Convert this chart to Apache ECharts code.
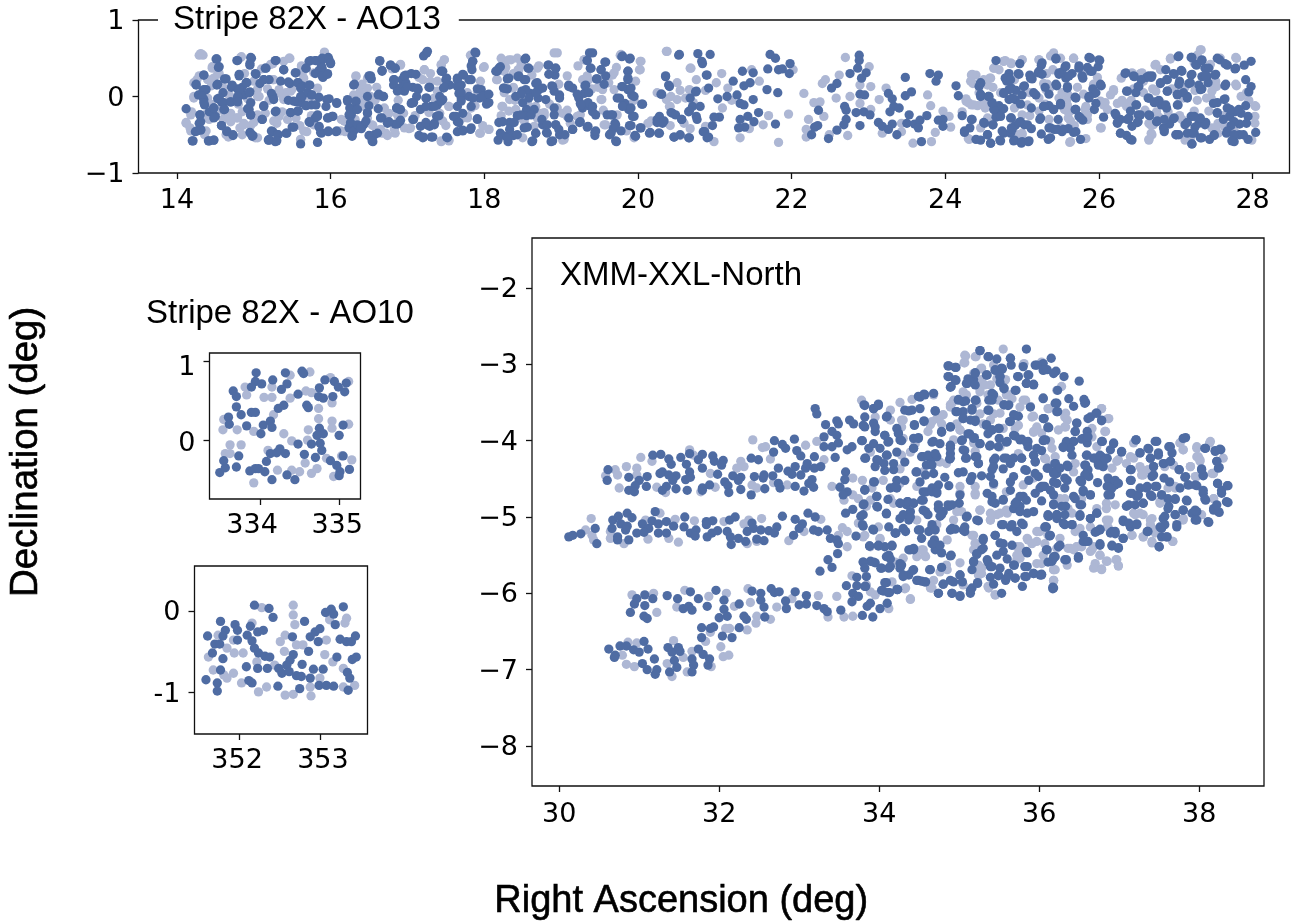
<!DOCTYPE html>
<html><head><meta charset="utf-8">
<style>html,body{margin:0;padding:0;background:#fff}#c{width:1294px;height:922px}</style>
<script src="https://cdn.jsdelivr.net/npm/echarts@6/dist/echarts.min.js"></script>
</head><body><div id="c"></div>
<script>
const ao13Light=[14.29,.54,14.34,.54,14.84,.52,15.47,.50,15.25,.43,15.92,.57,15.39,.46,14.46,.37,14.26,.22,14.22,-.02,14.48,.24,14.68,.02,15.0,.20,15.25,.22,15.33,.09,15.37,.02,15.05,0,14.96,-.09,14.19,-.20,14.36,-.24,14.12,-.35,14.17,-.41,14.63,-.26,14.78,-.28,14.70,-.33,14.87,-.35,14.82,-.41,14.36,-.50,14.67,-.53,15.02,-.54,14.96,-.38,15.69,-.46,15.61,-.57,15.37,-.20,15.33,-.26,15.63,.30,16.14,-.30,16.19,-.46,16.33,.26,16.38,.13,16.48,.11,16.52,0,16.43,-.13,16.48,-.28,16.67,-.48,16.74,-.51,16.84,-.48,16.76,-.22,16.96,-.41,16.91,.41,17.22,.35,17.20,.22,17.25,.57,17.48,.48,17.44,.41,17.39,.20,17.54,-.13,17.44,-.59,17.54,-.57,17.78,-.26,17.94,-.48,18.06,-.43,17.99,.38,17.82,.54,18.16,.22,18.23,-.13,18.33,-.04,18.28,.46,18.35,.48,18.44,.35,18.41,-.17,18.69,.37,18.67,-.13,18.74,-.22,18.95,.57,19.02,-.57,19.02,-.22,19.30,.48,19.36,.22,19.53,-.04,19.58,-.37,19.25,-.24,19.67,.28,20.03,.46,20.03,.35,19.77,.54,20.37,.59,20.37,-.04,20.42,-.13,20.13,-.35,20.55,-.51,20.68,.37,20.76,.22,20.88,-.39,21.09,.30,21.17,.11,21.58,.20,21.48,.35,21.33,-.54,20.99,-.59,21.63,-.37,21.70,-.25,21.96,-.23,21.83,-.60,22.02,.35,22.16,.04,22.29,-.08,22.37,-.07,22.22,-.30,22.42,-.26,22.19,-.43,22.19,-.53,22.40,.17,22.44,.22,22.58,-.02,22.70,.51,22.62,.28,22.76,0,22.73,-.51,22.49,-.50,22.89,.15,23.01,.39,23.03,.13,23.23,.11,23.14,-.04,22.89,-.09,23.03,-.17,23.18,-.48,23.43,-.35,23.43,-.46,23.58,-.61,23.82,-.59,23.87,-.47,23.77,.02,23.81,-.12,23.97,-.19,24.05,-.26,24.07,-.40,24.30,-.55,24.22,-.20,24.34,.28,24.36,.17,24.59,.24,24.27,-.03,24.34,-.11,24.49,-.09,24.64,.37,24.76,.46,24.86,.43,25.0,.48,25.40,.54,25.22,.48,25.67,.50,25.36,.11,25.48,-.02,25.55,-.17,25.60,-.28,25.62,-.60,25.82,-.17,26.03,-.41,25.0,-.50,25.28,.17,26.19,.09,26.24,-.09,26.29,.24,26.54,.30,26.73,.41,26.93,.49,26.36,-.13,26.68,-.48,26.65,-.57,26.71,-.37,27.12,-.57,27.33,.61,27.28,.54,27.79,.50,27.53,.13,27.46,-.02,27.79,.14,28.04,-.13,28.03,-.26,27.99,-.57,27.63,-.39,27.47,-.41,27.10,-.02,26.78,-.27];
const ao13LightMore=[14.22,.18,14.40,.22,14.45,.14,14.60,.12,14.55,.30,14.40,-.02,14.44,-.10,14.32,-.30,14.42,-.30,14.55,-.18,14.60,-.30,14.70,-.22,14.85,-.20,14.80,-.10,14.92,-.03,14.88,.30,15.05,.10,15.10,.36,15.18,.10,15.20,-.05,15.15,-.22,15.30,-.35,15.42,.05,15.50,.10,15.55,-.28,15.60,-.38,15.62,.40,15.75,-.25,15.80,-.05,16.18,-.32,16.32,-.30,16.42,-.05,16.38,.05,16.30,.02,16.60,.12,16.58,-.05,16.55,-.38,16.70,-.15,16.65,-.43,16.80,.36,16.88,-.05,16.95,-.22,17.02,-.42,17.10,-.25,17.15,.25,17.30,.30,17.35,-.02,17.42,-.22,17.50,-.38,17.72,-.28,17.78,.05,17.98,-.38,17.88,-.12,18.22,-.25,18.38,.30,18.48,.42,18.22,.50,18.28,.38,18.38,.12,18.40,-.05,18.48,-.28,18.58,-.12,18.62,.28,18.72,.10,18.78,-.25,18.85,-.10,18.95,-.15,19.08,-.18,19.12,-.35,19.22,.40,19.28,.22,19.40,.10,19.48,.12,19.55,-.18,19.62,.18,19.72,.38,19.85,-.45,19.95,-.05,20.25,.05,20.42,-.38,20.55,.08,20.62,-.02,20.60,-.35,20.68,-.42,20.88,.08,20.72,-.08,21.02,.18,21.10,-.15,21.22,-.05,21.45,-.42,24.40,.28,24.50,.22,24.55,.15,24.30,-.08,24.42,-.12,24.52,-.15,24.62,.12,24.70,.35,24.78,.47,24.90,.22,24.72,.05,24.90,-.15,24.95,-.50,25.1,.05,25.10,-.25,25.22,-.02,25.30,-.10,25.32,.30,25.35,-.30,25.40,.35,25.50,.50,25.58,-.05,25.60,.02,25.62,-.20,25.68,-.38,25.72,.12,25.80,.03,25.85,-.30,25.98,.25,26.08,-.08,26.15,.02,26.30,-.05,26.42,-.05,26.45,.10,26.58,.05,26.60,-.18,26.58,.20,26.70,.10,26.65,-.35,26.75,-.20,26.80,.35,26.90,-.20,26.95,.10,27.05,-.25,27.08,-.30,27.12,.12,27.25,.08,27.28,-.05,27.45,.42,27.52,.20,27.55,-.35,27.55,-.48,27.62,-.25,27.72,-.45,27.85,.00,27.95,-.05,28.03,-.12,27.92,.05,28.03,-.35,27.58,.50];
const ao13LightCrops=[14.31,.56,14.83,.51,15.46,.50,15.92,.58,14.46,.39,14.29,.27,14.53,.29,14.22,0,14.18,-.24,14.12,-.34,14.18,-.45,14.38,-.45,14.44,-.19,14.68,-.26,14.79,-.28,14.64,-.50,14.87,-.37,14.85,-.50,15.0,-.34,15.07,0,15.05,-.24,15.26,.22,15.22,.42,15.33,.07,15.39,-.04,15.48,.07,15.65,.24,15.78,.31,15.65,-.45,15.61,-.56,15.26,-.32,15.44,-.30,15.70,0,15.83,.11,15.78,-.37,16.18,-.32,16.13,-.45,16.33,.27,16.41,.16,16.39,.05,16.48,.24,16.72,-.48,16.83,-.43,17.04,-.41,16.91,.42,16.74,-.24,16.54,-.37,16.87,-.24,15.05,-.54,
18.91,.57,18.32,.48,18.43,.50,18.26,.33,18.17,.22,18.45,.35,18.71,.40,18.0,.39,17.48,.48,17.44,.42,17.22,.35,17.30,.20,17.39,.07,17.54,-.13,17.28,-.21,17.46,-.32,17.78,-.28,17.83,-.15,17.95,.20,17.91,.07,17.95,-.48,18.06,-.43,18.24,-.13,18.32,-.19,18.39,-.02,18.26,.05,18.37,.11,18.78,-.21,18.69,-.28,18.65,-.39,18.52,-.32,18.97,.16,19.08,.27,19.34,.27,19.30,.48,19.54,.09,19.52,-.04,19.69,.31,19.78,.55,20.04,.46,20.02,.35,19.97,.20,19.69,.09,19.08,-.26,19.21,-.26,19.56,-.37,19.73,-.24,19.89,-.11,19.95,-.54,20.17,-.32,20.43,0,20.51,.18,20.38,.59,20.69,.37,20.67,.09,20.51,-.04,20.41,-.13,17.44,-.58,17.54,-.58,18.50,-.54,19.04,-.56,
24.35,.29,24.33,.20,24.44,.05,24.27,-.06,24.37,-.11,24.50,-.08,24.58,.24,24.63,.37,24.76,.46,24.85,.44,25.0,.48,25.22,.48,25.37,.53,25.41,.57,25.67,.50,25.83,.33,25.93,.16,25.33,.16,25.52,.05,25.31,.09,25.22,-.19,25.59,-.19,25.63,-.32,25.59,-.11,25.83,-.13,25.85,-.24,25.50,-.41,26.02,-.41,25.63,-.59,25.83,-.55,26.06,-.11,26.19,.07,26.32,-.08,26.11,-.17,26.43,.31,26.56,.31,26.74,.42,26.93,.50,27.32,.61,27.24,.44,27.06,.13,26.74,.07,26.80,-.08,26.67,-.37,26.69,-.50,26.65,-.56,26.91,-.28,27.24,-.19,27.43,-.19,27.52,-.41,27.50,.16,27.47,.07,27.40,-.02,27.78,.16,27.78,.51,27.67,-.15,27.76,-.45,27.19,-.56,27.32,-.54,24.55,-.28,24.46,-.41,24.31,-.56,25.0,-.48,25.0,-.24,25.07,-.11,24.66,-.24,26.02,-.06];
const ao13Dark=[14.51,.49,14.54,.38,14.78,.47,14.96,.51,14.95,.41,14.35,.28,14.25,.15,14.34,.08,14.38,.09,14.35,-.04,14.36,-.11,14.52,.15,14.62,.23,14.81,.27,14.90,.18,14.71,.12,14.79,.10,14.87,.02,14.94,.05,14.53,-.03,14.58,-.07,14.70,-.07,14.79,-.02,14.12,-.16,14.30,-.24,14.48,-.15,14.50,-.26,14.62,-.17,14.94,-.17,14.96,-.24,15.13,-.13,15.11,-.30,15.28,-.20,15.25,0,15.15,.37,15.28,.47,15.39,.35,15.54,.31,15.13,.22,15.08,.17,15.47,.17,15.58,.18,15.63,.14,15.73,.15,15.25,-.46,15.20,-.57,15.32,-.50,15.42,-.48,15.50,-.40,15.48,-.21,15.57,-.19,15.68,-.12,15.75,-.11,15.83,-.24,15.80,-.28,15.73,-.34,15.85,-.40,15.88,-.48,15.97,-.46,16.07,-.46,15.97,-.28,16.03,-.26,16.08,-.09,15.95,-.04,15.75,.02,15.63,0,15.56,-.07,15.72,.46,15.80,.47,15.90,.49,15.97,.51,16.0,.43,15.88,.40,15.68,.37,15.85,.34,15.96,.30,15.90,.25,14.29,-.35,14.31,-.43,14.24,-.46,14.21,-.58,14.41,-.58,14.48,-.57,14.58,-.38,14.65,-.46,14.73,-.50,14.95,-.47,14.99,-.51,15.19,-.57,15.28,-.59,15.61,-.62,15.83,-.60,16.22,-.06,16.33,-.07,16.25,-.15,16.31,-.17,16.27,-.24,16.30,.15,16.50,.27,16.53,.23,16.26,-.36,16.24,-.41,16.28,-.51,16.36,-.41,16.43,-.37,16.48,-.22,16.50,-.51,16.57,-.50,16.55,-.59,16.64,.46,16.67,.33,16.78,.41,16.84,.37,16.62,.02,16.68,0,16.82,.22,16.82,.15,16.93,.22,16.98,.28,17.05,.30,16.96,.07,17.07,.12,17.14,.09,17.12,0,16.86,-.15,16.90,-.17,16.67,-.28,16.74,-.35,16.84,-.36,16.90,-.33,17.07,-.30,17.05,-.09,17.25,.57,17.21,.53,17.29,.12,17.25,-.02,17.17,-.17,17.31,-.13,17.39,-.11,17.46,-.04,17.25,-.37,17.17,-.39,17.29,-.39,17.15,-.51,17.21,-.53,17.31,-.53,17.51,-.53,17.38,-.26,17.44,.33,17.51,.24,17.47,.11,17.65,.24,17.73,.28,17.80,.22,17.88,.58,17.85,.46,17.84,.35,17.65,.13,17.67,.04,17.70,-.02,17.65,-.13,17.80,0,17.91,.10,17.94,-.02,18.03,.02,18.03,-.10,17.60,-.26,17.65,-.33,17.65,-.46,17.72,-.44,17.82,-.43,17.91,-.30,18.17,.33,18.21,.39,18.30,.23,18.25,.11,18.44,.26,18.52,.22,18.53,.49,18.57,.37,18.19,-.34,18.33,-.34,18.21,-.48,18.18,-.57,18.28,-.52,18.31,-.59,18.33,-.43,18.38,-.51,18.43,-.25,18.41,0,18.49,.07,18.60,.04,18.67,.17,18.55,-.17,18.55,-.25,18.70,-.02,18.52,-.41,18.67,-.48,18.62,-.59,18.76,-.37,18.81,-.47,18.87,-.59,18.93,-.37,18.98,-.50,18.83,.41,18.93,.37,18.88,.14,18.98,.02,18.98,-.02,19.10,.15,19.15,.11,19.10,-.28,19.25,-.33,19.15,-.43,19.23,-.02,19.30,.04,19.25,-.09,19.31,.14,19.37,.57,19.34,.47,19.38,.37,19.46,.23,19.52,.35,19.58,.45,19.38,-.13,19.41,-.20,19.35,-.39,19.44,-.47,19.44,-.51,19.60,-.24,19.67,-.24,19.70,-.35,19.65,-.48,19.72,-.59,19.79,.52,19.89,.49,19.87,.33,19.87,.22,19.79,.13,19.87,.09,19.73,-.02,19.83,-.09,19.88,-.17,20.05,-.10,19.93,-.26,19.89,-.38,20.03,-.41,19.96,-.51,20.15,-.48,20.25,-.30,20.32,-.35,20.27,-.48,20.47,-.53,20.66,-.54,20.53,.54,20.78,.56,20.83,.46,20.90,.28,20.36,.26,20.40,.15,20.30,.03,20.45,-.22,20.57,-.30,20.76,.07,20.71,-.13,20.66,-.20,20.81,-.13,20.76,-.26,20.85,-.46,20.90,-.54,
20.94,.55,20.84,.43,20.89,.28,20.92,.11,21.04,-.03,21.16,0,21.29,.02,21.24,.20,21.36,.33,21.50,.31,21.46,.18,21.38,.14,21.50,-.04,21.33,-.09,21.38,-.11,21.57,-.21,21.43,-.26,21.06,-.27,20.99,-.27,21.33,-.30,21.51,-.33,21.39,-.40,21.31,-.41,20.97,-.38,20.87,-.46,20.92,-.53,21.72,.55,21.79,.50,21.69,.36,21.83,.35,21.88,.36,21.98,.43,21.97,.30,21.68,.09,21.82,.05,21.79,-.36,22.26,-.50,22.34,-.38,22.30,-.40,22.48,-.55,22.35,-.18,22.52,.11,22.59,.17,22.76,.30,22.88,.54,22.88,.47,22.86,.37,22.97,.31,22.91,.24,22.89,.03,22.95,.02,22.69,-.13,22.71,-.18,22.84,-.21,22.94,-.20,23.02,-.24,22.71,-.30,22.68,-.37,22.59,-.44,22.89,-.38,23.13,-.34,23.26,.04,23.31,-.03,23.33,-.13,23.28,-.20,23.40,-.15,23.18,-.39,23.31,-.36,23.26,-.43,23.37,-.50,23.48,.25,23.48,.01,23.56,.06,23.80,.30,23.91,.28,23.88,.20,23.53,-.24,23.50,-.35,23.60,-.36,23.67,-.31,23.65,-.41,23.76,-.25,23.91,-.31,23.97,-.30,23.97,-.39,23.69,-.59,
24.14,.14,24.17,.01,24.46,.17,24.44,.13,24.46,0,24.56,0,24.22,-.25,24.34,-.30,24.32,-.41,24.25,-.47,24.51,-.35,24.46,-.57,24.55,-.50,24.62,-.37,24.59,-.61,24.66,.47,24.61,-.09,24.64,-.17,24.71,-.22,24.66,-.27,24.71,-.57,24.76,-.48,24.86,-.28,24.86,-.41,24.91,-.38,24.98,-.33,25.03,-.37,24.90,-.57,24.99,-.61,25.08,-.59,24.83,.30,24.78,.24,24.86,.11,24.76,.04,24.83,-.04,24.95,.30,24.97,.43,25.03,.14,25.0,.02,24.91,-.04,25.13,.23,25.21,.31,25.25,.41,25.18,.02,25.12,-.15,25.28,-.13,25.23,-.30,25.44,.49,25.48,.29,25.56,.39,25.57,.24,25.45,.14,25.59,.11,25.69,-.01,25.50,-.09,25.41,-.17,25.69,-.17,25.47,-.30,25.74,-.26,25.79,-.31,25.37,-.41,25.42,-.43,25.25,-.49,25.34,-.56,25.52,-.46,25.67,-.47,25.76,-.56,25.74,.37,25.87,.51,26.01,.47,25.99,.39,25.89,.33,25.79,.24,26.03,.14,25.94,.04,25.87,-.02,25.96,-.09,25.94,-.17,26.06,-.27,
26.34,.30,26.46,.26,26.36,.07,26.51,.13,26.49,-.11,26.21,-.22,26.24,-.35,26.39,-.28,26.51,-.24,26.51,-.33,26.66,-.25,26.28,-.48,26.36,-.51,26.43,-.57,26.62,.25,26.68,.25,26.64,-.02,26.72,-.07,26.81,-.11,26.88,-.15,26.75,-.33,26.84,-.41,26.85,-.46,26.97,-.29,27.03,.52,26.97,.30,26.88,.22,26.80,.17,26.89,.07,27.03,-.11,27.07,.34,27.20,.28,27.17,.17,27.05,.20,27.02,.02,27.15,0,27.20,.51,27.34,.48,27.27,.41,27.38,.37,27.34,.26,27.51,.28,27.41,.26,27.34,.10,27.01,-.50,27.12,-.37,27.20,-.26,27.30,-.35,27.38,-.37,27.21,-.48,27.21,-.62,27.34,-.54,27.44,-.56,27.50,-.51,27.57,.48,27.67,.41,27.77,.36,27.89,.41,27.98,.46,27.64,.14,27.49,-.09,27.64,-.03,27.54,-.22,27.67,-.15,27.77,-.20,27.70,-.26,27.91,-.12,27.91,.22,27.98,.13,27.95,.06,27.94,-.26,27.83,-.36,27.76,-.33,27.66,-.48,27.76,-.59,27.83,-.50,27.94,-.56,28.04,-.47];
const ao13DarkMore=[14.28,.02,14.42,-.20,14.60,.05,14.85,.12,15.02,.30,15.20,.22,15.35,.20,15.45,-.05,15.62,-.08,15.80,.30,15.70,.05,16.40,-.42,16.30,-.45,16.50,-.12,16.92,.12,16.98,.18,17.08,-.08,17.35,-.35,17.42,.00,17.70,.15,17.72,-.22,17.55,.15,18.30,.10,18.70,.08,18.92,.28,18.75,-.30,19.05,-.50,19.28,-.15,19.35,-.08,19.68,-.42,19.80,-.12,19.92,.02,20.68,-.02,20.55,-.50,24.70,-.12,24.80,.20,24.92,.08,24.98,-.10,25.10,.28,25.30,.12,25.35,-.12,25.52,.32,25.65,.30,25.85,.38,25.92,.10,25.60,-.42,25.12,-.42,24.85,-.48,26.28,-.30,26.55,.22,26.78,-.05,26.92,-.36,27.10,.05,27.30,.15,27.15,-.48,27.42,.18,27.62,-.30,27.85,-.22,27.92,-.35,27.72,-.38,27.88,-.50,27.25,-.40];
const ao13DarkCrops=[14.52,.49,14.55,.39,14.79,.47,14.97,.50,14.95,.43,14.35,.28,14.25,.16,14.35,.09,14.33,0,14.35,-.08,14.53,.16,14.64,.23,14.81,.29,15.03,.29,14.91,.18,14.72,.15,14.81,.09,14.79,0,14.95,.06,14.55,-.02,14.61,-.08,14.70,-.07,14.79,-.07,15.13,.22,15.29,.47,15.16,.37,15.39,.35,15.55,.31,15.45,.19,15.23,.04,15.26,-.04,15.57,.18,15.61,.11,15.72,.15,15.76,.02,15.85,-.01,15.61,0,15.52,-.06,15.98,-.03,16.08,-.08,15.94,-.13,15.68,-.12,15.81,-.11,15.83,-.26,15.72,-.33,16.02,-.26,15.96,-.28,14.30,-.24,14.31,-.33,14.31,-.44,14.26,-.45,14.48,-.15,14.48,-.28,14.61,-.17,14.92,-.16,14.96,-.08,15.13,-.12,14.96,-.24,15.11,-.30,15.29,-.19,15.48,-.21,15.58,-.19,14.58,-.38,14.65,-.45,14.73,-.51,14.96,-.48,14.98,-.52,15.23,-.45,15.20,-.56,15.31,-.50,15.30,-.58,15.43,-.48,15.52,-.40,15.87,-.47,15.97,-.45,16.08,-.45,15.85,-.39,14.20,-.58,14.42,-.58,14.48,-.57,15.68,.37,15.74,.47,15.81,.47,15.89,.50,15.98,.48,16.0,.44,15.89,.37,15.89,.27,15.96,.29,16.22,-.04,16.33,-.06,16.26,-.17,16.24,-.24,16.35,-.17,16.48,-.21,16.48,0,16.31,.16,16.26,-.34,16.35,-.37,16.39,-.41,16.46,-.32,16.28,-.52,16.54,-.52,16.61,-.48,16.54,-.58,16.64,.47,16.67,.34,16.78,.41,16.84,.37,16.52,.27,16.63,.03,16.69,0,16.83,.22,16.87,.07,16.62,-.16,16.86,-.15,16.91,-.17,17.06,-.08,16.65,-.28,16.76,-.33,16.87,-.36,16.91,-.31,16.96,.27,17.11,.29,17.0,.13,17.13,.11,17.08,-.30,
17.26,.59,17.46,.33,17.50,.22,17.48,.12,17.28,.12,17.24,-.02,17.24,-.13,17.35,-.13,17.44,-.06,17.41,-.25,17.24,-.34,17.35,-.37,17.20,-.54,17.33,-.53,17.52,-.54,17.65,.22,17.72,.29,17.83,.40,17.89,.57,17.85,.46,17.83,.22,17.67,.13,17.70,.05,17.70,-.06,17.85,-.02,17.96,.09,17.98,0,18.06,.03,18.06,-.08,17.83,-.13,17.63,-.26,17.67,-.34,17.72,-.45,17.83,-.41,17.91,-.29,18.19,.37,18.15,.33,18.32,.24,18.26,.11,18.45,.27,18.54,.22,18.58,.37,18.54,.50,18.84,.41,18.93,.37,18.84,.29,18.69,.18,18.76,.11,18.89,.13,18.91,.07,18.54,.09,18.48,.03,18.58,-.02,18.67,.05,18.50,-.08,18.80,-.04,18.91,-.15,18.91,-.24,18.48,-.24,18.65,-.17,18.61,-.24,18.24,-.33,18.39,-.34,18.22,-.50,18.30,-.54,18.43,-.50,18.56,-.40,18.67,-.48,18.63,-.58,18.82,-.37,18.93,-.37,18.97,-.43,18.82,-.48,18.89,-.58,19.10,.13,19.21,.03,19.26,-.11,19.36,.05,19.32,.15,19.41,-.13,19.45,-.24,19.41,.57,19.34,.47,19.39,.37,19.52,.35,19.57,.45,19.47,.23,19.58,.27,19.56,.16,19.80,.53,19.90,.50,19.87,.33,19.87,.24,19.80,.13,19.91,.11,19.76,-.02,19.95,0,19.80,-.13,19.91,-.15,20.06,-.10,19.95,-.26,19.65,-.24,19.71,-.37,19.63,-.50,19.78,-.45,19.71,-.58,19.91,-.38,20.04,-.41,19.97,-.52,19.45,-.45,19.24,-.34,19.15,-.43,19.34,-.40,20.16,-.47,20.28,-.26,20.25,-.34,20.34,-.32,20.28,-.48,20.47,-.53,20.67,-.54,20.43,-.21,20.49,-.24,20.57,-.30,20.36,.27,20.41,.13,20.31,.03,20.54,.55,20.75,.06,20.77,-.30,20.67,-.19,
24.79,.24,24.85,.22,24.83,.09,24.87,-.02,24.76,.05,24.96,.29,25.02,.13,25.11,.24,25.15,.05,25.22,.33,25.26,.29,25.26,.44,25.44,.50,25.48,.31,25.57,.40,25.61,.27,25.59,.13,25.74,.40,25.78,.27,25.91,.33,26.0,.48,25.89,.50,26.02,.16,25.96,.05,25.87,0,25.70,-.02,25.76,-.28,25.70,-.17,25.44,.16,25.35,.03,25.50,-.11,25.41,-.17,25.28,-.13,25.24,-.28,25.35,-.41,25.46,-.43,25.37,-.54,25.54,-.43,25.70,-.46,24.85,-.28,24.96,-.34,25.07,-.37,24.87,-.43,24.74,-.45,24.72,-.58,24.89,-.58,25.0,-.59,25.09,-.58,24.59,-.61,24.40,-.56,24.55,-.50,24.25,-.45,24.35,-.30,24.50,-.34,24.62,-.37,24.72,-.26,24.63,-.17,24.61,-.08,24.46,.03,24.57,0,24.76,-.16,24.46,.18,
26.35,.31,26.45,.27,26.65,.27,26.69,.27,26.87,.35,26.98,.29,27.08,.33,27.21,.29,27.26,.42,27.34,.47,27.21,.51,27.04,.53,27.54,.50,27.64,.43,27.78,.37,27.43,.37,27.52,.29,27.39,.27,27.19,.18,26.80,.18,26.89,.22,27.04,.16,27.32,.09,27.65,.16,26.89,.07,27.02,.03,27.15,-.02,26.65,-.02,26.72,-.08,26.87,-.11,27.02,-.11,27.54,-.08,27.63,-.04,27.54,-.21,27.71,-.17,27.82,-.17,26.48,-.11,26.52,.13,26.37,.07,26.48,.05,26.22,-.24,26.24,-.34,26.37,-.30,26.41,-.19,26.54,-.24,26.65,-.24,26.50,-.34,26.43,-.39,26.76,-.32,26.85,-.30,26.85,-.43,26.98,-.28,27.15,-.34,27.04,-.50,27.0,-.50,27.24,-.48,27.32,-.54,27.50,-.50,27.39,-.34,27.32,-.28,27.24,-.26,27.67,-.45,27.76,-.50,27.73,-.58,27.21,-.62,26.28,-.48,26.41,-.56];
const ao10aLight=[334.63,.86,334.38,.82,334.89,.79,335.12,.74,333.81,.67,333.83,.57,334.15,.67,334.05,.54,334.15,.54,334.38,.53,334.58,.62,334.65,.60,334.91,.47,334.74,.40,334.74,.27,333.54,.26,333.53,.13,333.71,.13,333.92,.11,334.17,.32,334.30,.08,334.40,-.01,334.61,.13,334.91,.24,334.91,.15,335.12,.20,333.62,-.06,333.76,-.06,333.56,-.17,333.62,-.17,334.60,0,335.03,-.20,335.16,-.25,334.10,-.13,334.22,-.38,334.57,-.29,334.65,-.42,334.50,-.40,334.72,-.36,334.93,-.46,333.92,-.54,334.84,-.23,334.40,-.38];
const ao10aDark=[333.95,.85,334.32,.85,334.53,.87,334.55,.84,334.16,.76,333.94,.74,334.02,.71,333.89,.67,334.34,.71,334.27,.64,334.48,.58,333.66,.62,333.70,.55,333.70,.42,333.76,.32,333.60,.29,333.61,.20,333.83,.18,333.89,.35,333.94,.35,334.04,.19,334.01,.08,334.13,.24,334.15,.16,334.23,.40,334.30,.44,334.59,.44,334.61,.41,334.75,.66,334.74,.55,334.80,.53,334.82,.76,334.92,.55,334.94,.74,334.99,.67,335.09,.72,335.07,.61,334.75,.15,334.80,.08,334.72,.06,335.0,.06,335.05,.19,334.48,-.05,334.65,-.05,334.76,-.04,334.78,-.13,334.56,-.18,334.70,-.22,335.05,-.20,334.89,-.26,334.97,-.32,335.13,-.37,335.01,-.40,335.0,-.45,333.49,-.41,333.56,-.35,333.54,-.26,333.70,-.34,333.73,-.20,333.87,-.39,333.94,-.36,333.98,-.36,334.08,-.27,334.06,-.40,334.13,-.17,334.25,-.11,334.21,-.16,334.32,-.17,334.15,-.50,334.34,-.44,334.44,-.50];
const ao10bLight=[352.28,.05,352.67,.08,352.67,-.04,352.69,-.16,352.16,-.14,351.74,-.29,351.93,-.35,351.85,-.45,351.94,-.51,352.05,-.51,351.62,-.56,351.68,-.72,351.81,-.78,351.93,-.76,351.85,-.82,352.03,-.88,352.24,-.99,352.34,-.93,352.22,-.62,352.57,-.29,352.51,-.37,352.56,-.49,352.71,-.41,352.79,-.41,353.08,-.35,353.06,-.53,353.16,-.62,353.33,-.08,353.31,-.14,353.12,-.10,353.29,-.70,353.43,-.91,353.29,-.93,352.57,-1.03,352.67,-1.02,352.89,-1.04,352.88,-.93,353.0,-.82,352.44,-.66];
const ao10bDark=[352.19,.08,352.37,.04,352.42,-.07,351.77,-.12,351.95,-.16,351.83,-.23,351.80,-.30,351.61,-.30,351.70,-.40,351.76,-.40,351.67,-.51,351.80,-.58,351.77,-.72,351.59,-.84,351.73,-.88,351.73,-.98,351.98,-.23,351.98,-.35,352.14,-.18,352.10,-.29,352.16,-.36,352.23,-.25,352.30,-.23,352.19,-.45,352.24,-.51,352.32,-.55,352.38,-.56,352.09,-.68,352.23,-.70,352.35,-.70,352.12,-.85,352.16,-.88,352.48,-.92,352.49,-.70,352.53,-.76,352.66,-.31,352.81,-.12,352.67,-.53,352.63,-.60,352.59,-.66,352.62,-.74,352.71,-.79,352.77,-.80,352.78,-.65,352.88,-.82,352.75,-.95,352.86,-.49,352.88,-.31,352.94,-.25,353.0,-.21,352.98,-.37,352.92,-.71,353.04,-.71,352.99,-.91,353.08,-.91,353.17,-.92,353.07,-.01,353.14,.03,353.17,-.03,353.19,-.16,353.29,.06,353.25,-.34,353.33,-.37,353.39,-.37,353.44,-.30,353.21,-.56,353.40,-.59,353.45,-.56,353.34,-.75,353.37,-.82,353.35,-.97];
const xxlLight=[30.70,-4.38,30.73,-4.45,30.84,-4.34,30.97,-4.36,31.02,-4.22,30.58,-4.46,30.75,-4.62,31.22,-4.61,31.33,-4.68,31.16,-4.27,30.97,-4.45,31.63,-4.12,31.68,-4.19,31.89,-4.43,31.77,-4.67,31.95,-4.61,32.27,-4.27,32.31,-4.34,32.22,-4.36,32.42,-3.99,32.54,-4.09,32.58,-4.08,32.64,-4.24,32.41,-4.58,32.47,-4.62,32.85,-4.58,33.08,-4.06,33.22,-4.01,32.68,-4.55,33.31,-4.25,33.41,-4.60,33.56,-4.78,33.67,-4.71,33.67,-4.49,33.79,-4.52,33.89,-4.78,33.74,-4.76,30.40,-5.02,30.33,-5.17,30.41,-5.24,30.43,-5.30,30.64,-5.19,30.64,-5.28,30.81,-5.35,31.11,-5.29,31.37,-5.28,31.49,-5.33,31.26,-4.95,31.45,-5.03,31.69,-5.05,31.08,-5.04,32.06,-5.06,32.37,-5.04,32.31,-5.09,32.53,-5.02,32.87,-5.31,32.35,-5.35,32.47,-5.32,33.06,-5.19,33.27,-5.03,33.54,-5.14,33.60,-5.19,33.49,-5.24,33.60,-5.39,33.74,-5.08,33.82,-5.24,34.01,-5.29,30.91,-6.02,31.18,-6.0,31.22,-6.25,31.47,-6.18,31.57,-5.96,31.87,-6.04,32.09,-6.0,32.19,-6.17,32.36,-5.94,32.39,-6.12,32.47,-6.30,32.46,-6.39,32.64,-6.34,32.72,-6.18,32.91,-6.07,33.24,-6.03,33.47,-6.04,33.36,-6.31,33.56,-6.31,33.67,-6.30,34.12,-6.20,33.66,-5.77,32.08,-6.46,32.13,-6.46,32.35,-6.48,31.89,-6.51,31.83,-6.63,32.02,-6.70,32.05,-6.83,32.12,-6.81,30.86,-6.64,30.97,-6.65,30.79,-6.81,30.84,-6.93,30.94,-6.96,31.43,-6.62,31.66,-6.76,31.55,-6.84,31.35,-6.92,31.60,-7.03,31.41,-7.09,31.90,-6.96,
35.55,-2.80,35.08,-2.89,35.06,-2.98,35.21,-2.90,35.43,-3.01,35.28,-3.05,35.81,-2.99,35.28,-3.20,35.39,-3.27,35.26,-3.36,35.18,-3.12,35.58,-3.20,36.28,-3.29,35.62,-3.40,34.93,-3.47,34.89,-3.53,35.83,-3.47,35.89,-3.55,36.12,-3.58,36.33,-3.64,36.35,-3.73,36.33,-3.82,36.78,-3.58,36.87,-3.71,36.83,-3.88,35.97,-3.84,35.93,-3.88,35.93,-3.68,35.70,-3.84,35.51,-3.64,35.39,-3.73,34.80,-3.66,34.72,-3.71,34.64,-3.79,34.28,-3.73,34.93,-3.99,35.01,-3.86,35.18,-4.03,35.20,-4.14,35.51,-4.08,35.74,-4.17,36.08,-4.24,36.20,-4.21,36.72,-4.08,36.66,-3.95,37.14,-4.21,37.26,-4.34,37.30,-4.45,36.97,-4.27,37.76,-4.03,37.80,-4.12,37.97,-4.08,37.97,-4.21,38.01,-4.27,38.13,-4.03,38.30,-4.23,37.89,-4.34,38.18,-4.43,37.97,-4.47,37.70,-4.62,38.18,-4.76,37.51,-4.82,37.80,-5.04,38.01,-4.97,35.47,-4.97,35.60,-4.95,35.26,-4.91,35.39,-5.04,35.03,-4.93,35.20,-4.71,35.20,-4.60,35.01,-4.60,34.47,-4.60,34.26,-4.56,34.05,-4.52,36.01,-5.19,36.45,-5.19,36.87,-5.04,36.85,-5.13,37.18,-4.95,37.30,-4.97,37.39,-5.04,37.41,-5.15,37.30,-5.26,37.41,-5.32,37.67,-5.32,37.16,-5.24,35.85,-5.28,35.97,-5.32,35.72,-5.39,35.76,-5.48,35.18,-5.24,35.20,-5.34,34.85,-5.30,34.55,-5.43,34.58,-5.52,34.47,-5.52,36.39,-5.41,36.47,-5.39,36.64,-5.45,36.76,-5.50,36.85,-5.58,36.97,-5.56,36.99,-5.64,36.70,-5.66,36.78,-5.68,36.35,-5.63,36.18,-5.69,36.18,-5.83,35.97,-5.61,35.72,-5.56,35.28,-5.67,35.28,-5.74,35.01,-5.60,34.85,-5.69,34.68,-5.83,34.64,-5.93,35.37,-5.93,35.45,-6.02,34.33,-5.93,34.39,-6.08,35.24,-5.63];
const xxlLightCore=[35.07,-2.88,35.07,-2.98,35.20,-2.90,35.27,-3.06,34.26,-3.50,34.41,-3.46,34.68,-3.40,34.14,-3.73,34.30,-3.73,34.28,-3.82,34.66,-3.75,34.78,-3.67,34.61,-3.88,34.30,-3.97,34.45,-4.04,34.39,-4.15,34.28,-4.19,34.89,-4.06,34.91,-3.51,34.89,-3.56,35.09,-3.40,35.26,-3.32,35.32,-3.27,35.36,-3.40,35.22,-3.51,35.26,-3.65,35.43,-3.65,35.30,-3.78,35.49,-3.47,35.59,-3.40,35.66,-3.45,35.80,-3.47,35.76,-3.56,35.91,-3.69,35.97,-3.82,35.93,-3.89,36.11,-3.58,36.07,-4.23,36.24,-3.86,34.97,-3.78,34.78,-3.78,34.84,-4.30,34.55,-4.41,34.76,-4.28,35.01,-3.86,35.55,-3.84,35.47,-3.19,35.57,-3.21,35.80,-3.01,36.03,-2.97,36.22,-3.34,35.05,-3.36,35.74,-3.80,34.14,-3.60,33.95,-3.69,33.78,-3.47,33.89,-4.15,34.26,-4.37,
35.20,-4.69,35.26,-4.91,35.39,-5.04,35.51,-4.95,35.59,-4.91,35.16,-5.24,35.20,-5.35,35.18,-5.43,35.76,-5.39,35.86,-5.30,35.97,-5.19,35.91,-5.35,35.76,-5.54,36.05,-5.50,36.22,-5.41,36.20,-5.69,36.18,-5.83,35.72,-5.50,35.24,-5.76,35.26,-5.72,35.36,-5.91,34.84,-5.63,34.76,-5.72,34.57,-5.50,34.53,-5.43,34.30,-5.54,34.20,-5.59,33.99,-5.13,33.80,-5.26,34.01,-5.28,33.89,-5.39,34.16,-5.85,34.32,-5.94,34.66,-5.93,35.05,-5.89,35.45,-6.02,34.39,-6.07,33.89,-5.98,33.95,-6.02,33.91,-4.62,33.84,-4.86,34.18,-4.82,34.14,-4.76,34.47,-5.04,34.97,-4.93,35.01,-4.69,35.43,-4.58,35.59,-4.67,35.93,-4.49,34.93,-5.04,34.72,-5.10,35.39,-4.95,33.84,-5.89,35.80,-4.58,
36.78,-3.58,36.86,-3.71,36.32,-3.69,36.32,-3.82,36.14,-4.01,36.16,-4.10,36.82,-3.88,36.66,-3.84,36.64,-3.90,36.07,-4.23,36.16,-4.32,36.45,-4.30,36.43,-4.41,36.80,-4.34,36.91,-4.36,36.99,-4.25,37.09,-4.30,37.18,-4.23,37.18,-4.03,37.28,-4.38,37.28,-4.45,37.36,-4.38,37.57,-4.34,37.68,-4.32,37.76,-4.03,37.80,-4.12,37.97,-4.10,37.99,-4.21,38.01,-4.25,37.89,-4.34,38.14,-4.01,38.16,-4.43,37.95,-4.47,37.61,-4.62,37.70,-4.60,37.51,-4.80,38.18,-4.76,38.03,-4.97,37.80,-5.02,37.61,-4.78,36.32,-4.76,36.26,-4.76,36.36,-4.89,36.41,-4.95,36.84,-4.82,36.84,-4.89,36.72,-4.89,36.95,-4.84,36.84,-5.04,36.86,-5.13,36.64,-5.13,36.51,-5.15,36.47,-5.39,36.36,-5.41,36.43,-5.43,36.66,-5.43,36.76,-5.50,36.70,-5.61,36.68,-5.67,36.78,-5.69,36.84,-5.58,36.96,-5.56,36.99,-5.64,37.16,-5.24,37.30,-5.26,37.41,-5.34,37.26,-4.95,37.20,-4.97,37.41,-5.02,37.39,-5.10,37.45,-5.21,37.67,-5.32,36.26,-5.28,36.07,-5.35,36.03,-5.61,36.18,-5.69,36.18,-5.84,36.11,-5.24,36.68,-5.39,36.53,-5.39,36.53,-4.76,36.03,-3.90];
const xxlDark=[30.61,-4.38,30.60,-4.52,30.87,-4.48,31.00,-4.52,31.10,-4.47,30.95,-4.59,30.87,-4.65,30.94,-4.67,31.09,-4.60,31.17,-4.19,31.27,-4.18,31.37,-4.24,31.40,-4.31,31.52,-4.22,31.63,-4.17,31.59,-4.31,31.74,-4.25,31.79,-4.18,31.92,-4.20,31.94,-4.27,32.05,-4.26,32.03,-4.32,31.79,-4.36,31.98,-4.44,31.63,-4.41,31.58,-4.51,31.64,-4.48,31.46,-4.46,31.42,-4.52,31.29,-4.41,31.26,-4.43,31.37,-4.45,31.34,-4.60,31.29,-4.65,31.46,-4.63,31.60,-4.65,31.79,-4.62,31.79,-4.65,31.88,-4.58,32.07,-4.54,32.11,-4.59,32.12,-4.68,32.27,-4.64,32.40,-4.71,32.17,-4.46,32.27,-4.48,32.24,-4.52,32.44,-4.47,32.56,-4.45,32.55,-4.49,32.57,-4.63,32.67,-4.46,32.74,-4.56,32.76,-4.62,32.74,-4.36,32.68,-4.15,32.69,-4.00,32.79,-4.05,32.83,-4.10,32.94,-3.98,32.97,-4.13,33.02,-4.20,32.86,-4.40,32.91,-4.44,32.95,-4.34,33.02,-4.45,33.08,-4.36,33.10,-4.30,33.19,-4.21,33.27,-4.34,33.19,-4.36,33.16,-4.51,33.12,-4.56,32.95,-4.60,33.06,-4.66,33.18,-4.61,32.40,-4.23,32.49,-4.25,
30.12,-5.26,30.17,-5.24,30.27,-5.22,30.45,-5.15,30.47,-5.35,30.66,-5.15,30.67,-5.04,30.74,-4.99,30.85,-4.95,30.91,-5.01,30.77,-5.09,30.85,-5.12,30.83,-5.17,30.73,-5.26,30.73,-5.30,30.87,-5.30,30.97,-5.21,31.04,-5.09,31.12,-5.15,31.06,-5.20,31.20,-4.93,31.16,-5.05,31.24,-5.09,31.34,-5.06,31.24,-5.21,31.34,-5.21,31.43,-5.12,31.57,-5.00,31.56,-5.13,31.64,-5.21,31.71,-5.17,31.70,-5.25,31.84,-5.06,31.84,-5.10,31.92,-5.05,31.85,-5.26,31.91,-5.21,31.98,-5.18,32.13,-5.04,32.20,-5.00,32.10,-5.19,32.14,-5.26,32.15,-5.36,32.24,-5.28,32.33,-5.32,32.35,-5.19,32.41,-5.08,32.43,-5.15,32.52,-5.17,32.47,-5.29,32.56,-5.31,32.62,-5.18,32.72,-5.13,32.69,-5.21,32.79,-4.99,32.95,-5.03,33.11,-4.95,33.20,-5.00,33.04,-5.09,33.0,-5.15,32.93,-5.24,33.18,-5.17,33.24,-5.19,33.35,-5.17,33.39,-5.28,33.47,-5.30,33.49,-5.35,33.48,-5.48,33.36,-5.56,33.41,-5.66,33.26,-5.71,
31.07,-6.02,30.97,-6.07,30.94,-6.14,31.07,-6.16,31.17,-6.07,30.89,-6.25,31.06,-6.30,31.10,-6.33,31.35,-6.03,31.48,-6.07,31.64,-5.98,31.55,-6.20,31.62,-6.17,31.66,-6.22,31.74,-6.07,31.85,-6.17,31.96,-5.96,32.06,-6.09,32.06,-6.21,32.10,-6.30,32.0,-6.32,32.25,-6.14,32.31,-6.30,32.34,-6.34,32.41,-5.97,32.52,-6.0,32.52,-6.09,32.56,-6.18,32.57,-6.31,32.65,-5.94,32.69,-5.99,32.75,-5.98,32.83,-6.10,32.84,-6.20,32.95,-5.98,33.09,-6.03,33.0,-6.15,33.09,-6.14,33.22,-6.16,33.31,-6.2,33.35,-6.24,33.52,-6.22,31.93,-6.44,31.89,-6.46,31.78,-6.45,31.78,-6.58,32.04,-6.56,32.16,-6.58,32.25,-6.45,
30.62,-6.73,30.70,-6.81,30.69,-6.84,30.76,-6.69,30.84,-6.69,30.93,-6.74,31.0,-6.77,31.06,-6.63,31.11,-6.73,31.04,-6.92,31.10,-7.0,31.19,-6.86,31.22,-7.0,31.20,-7.06,31.36,-6.71,31.41,-6.77,31.49,-6.71,31.51,-6.76,31.44,-6.88,31.47,-6.97,31.38,-7.03,31.66,-6.86,31.68,-6.94,31.66,-7.03,31.74,-6.73,31.80,-6.80,31.88,-6.86,31.86,-6.94,
33.58,-4.95,33.67,-4.90,33.81,-4.83,33.77,-4.99,33.80,-5.12,33.98,-4.87,33.92,-5.16,34.09,-4.96,34.12,-5.13,34.21,-5.21,33.97,-4.73,34.11,-4.77,33.71,-5.25,33.88,-5.38,33.99,-5.38,34.16,-5.38,34.12,-5.50,33.80,-5.59,33.89,-5.58,33.95,-5.60,34.02,-5.67,34.12,-5.67,34.14,-5.55,33.72,-5.79,33.84,-5.78,33.59,-5.90,33.72,-5.90,33.83,-5.91,34.09,-5.86,34.05,-5.97,34.13,-5.99,34.22,-5.95,33.67,-6.0,33.74,-6.04,33.66,-6.11,33.89,-6.13,33.85,-6.17,34.10,-6.13,34.01,-6.20,33.79,-6.29,33.92,-6.31,
33.20,-3.58,33.22,-3.65,33.33,-3.79,33.47,-3.74,33.49,-3.78,33.41,-3.88,33.31,-3.95,33.31,-4.08,33.47,-3.93,33.41,-4.08,33.49,-4.03,33.60,-4.12,33.66,-4.08,33.81,-3.53,33.93,-3.58,33.99,-3.52,33.63,-3.73,33.68,-3.78,33.82,-3.82,33.93,-3.77,33.95,-3.88,34.10,-3.68,34.07,-3.93,34.12,-4.01,33.79,-4.0,33.87,-4.10,33.83,-4.23,33.58,-4.41,33.57,-4.51,33.51,-4.61,33.60,-4.67,33.55,-4.71,33.45,-4.22,33.97,-4.25,34.06,-4.30,34.18,-4.38,34.10,-4.19,34.22,-4.52,34.22,-4.62,34.14,-4.62,33.82,-4.64,33.94,-4.54,
35.26,-2.82,35.37,-2.90,35.47,-2.93,35.64,-2.92,35.65,-3.01,35.84,-2.80,36.15,-2.92,35.80,-3.03,35.95,-3.01,36.05,-2.99,36.10,-3.07,36.21,-3.09,36.31,-3.16,36.50,-3.22,34.87,-3.02,34.96,-3.04,34.87,-3.16,34.95,-3.20,34.90,-3.29,35.20,-3.11,35.10,-3.25,35.18,-3.20,35.35,-3.14,35.45,-3.07,35.53,-3.05,35.51,-3.16,35.51,-3.24,35.56,-3.31,35.73,-3.16,35.87,-3.14,35.84,-3.25,35.93,-3.26,35.71,-3.34,36.23,-3.34,36.05,-3.45,36.37,-3.45,36.56,-3.46,36.43,-3.55,36.20,-3.51,36.23,-3.62,36.58,-3.50,36.61,-3.71,36.71,-3.64,36.78,-3.73,36.47,-3.77,36.06,-3.71,36.12,-3.83,36.45,-3.88,36.60,-3.88,36.79,-4.01,36.93,-4.04,37.03,-4.15,
34.68,-3.38,34.56,-3.39,34.49,-3.42,34.99,-3.46,35.08,-3.48,35.21,-3.47,35.41,-3.38,35.37,-3.47,35.56,-3.53,35.62,-3.53,35.37,-3.60,35.16,-3.60,34.96,-3.62,35.05,-3.62,35.05,-3.71,35.20,-3.73,35.68,-3.66,35.74,-3.68,35.63,-3.75,34.70,-3.61,34.44,-3.79,34.56,-3.74,34.37,-3.61,34.78,-3.88,34.89,-3.82,35.34,-3.79,35.41,-3.86,35.50,-3.84,35.13,-3.91,35.19,-3.96,35.04,-3.99,35.50,-3.97,35.60,-4.01,35.70,-3.94,35.78,-3.98,35.86,-4.01,36.08,-3.99,35.26,-4.04,35.38,-4.07,34.89,-4.06,34.68,-4.01,34.43,-3.97,34.49,-3.96,34.26,-3.99,34.24,-3.90,34.43,-4.10,
34.89,-4.17,35.05,-4.12,35.08,-4.23,35.20,-4.21,35.24,-4.30,35.45,-4.23,35.64,-4.25,35.56,-4.23,35.78,-4.23,35.97,-4.10,35.93,-4.19,35.95,-4.27,34.88,-4.24,34.53,-4.21,34.62,-4.21,34.72,-4.21,34.66,-4.23,36.35,-4.06,36.43,-4.01,36.55,-3.97,36.60,-4.03,36.30,-4.09,36.60,-4.19,36.68,-4.23,36.78,-4.21,36.85,-4.23,36.74,-4.30,36.80,-4.34,
35.05,-4.41,34.99,-4.42,35.16,-4.47,35.28,-4.46,35.41,-4.38,35.39,-4.47,35.64,-4.30,35.82,-4.38,36.10,-4.36,36.20,-4.30,36.35,-4.32,36.22,-4.43,36.58,-4.32,36.60,-4.41,36.62,-4.47,35.87,-4.52,35.99,-4.47,35.68,-4.47,35.64,-4.54,34.47,-4.41,34.58,-4.45,34.68,-4.43,34.82,-4.48,34.51,-4.54,34.74,-4.58,34.87,-4.59,
35.14,-4.52,35.43,-4.56,35.64,-4.65,36.03,-4.60,36.18,-4.54,36.35,-4.52,36.53,-4.54,36.73,-4.55,36.87,-4.52,36.85,-4.60,36.95,-4.58,36.89,-4.71,36.55,-4.67,36.64,-4.71,36.18,-4.71,36.43,-4.73,35.95,-4.69,34.26,-4.82,34.35,-4.80,34.43,-4.82,34.39,-4.93,34.55,-4.67,34.66,-4.62,34.72,-4.69,34.53,-4.78,34.74,-4.84,34.87,-4.86,34.80,-4.93,34.76,-4.99,35.01,-4.71,35.0,-4.82,35.35,-4.69,35.41,-4.80,35.55,-4.77,35.72,-4.80,35.80,-4.73,35.68,-4.89,35.76,-4.86,35.85,-4.95,35.93,-4.93,36.03,-4.79,36.18,-4.83,36.53,-4.84,36.33,-4.86,36.22,-4.97,36.12,-4.99,36.51,-4.97,36.64,-5.02,36.72,-4.95,
35.10,-4.99,35.24,-5.05,35.53,-5.10,35.64,-5.13,35.78,-5.08,35.72,-5.19,35.05,-5.17,34.89,-5.17,34.95,-5.16,34.58,-4.93,34.66,-5.13,34.51,-5.17,34.62,-5.19,34.33,-5.19,34.20,-5.21,34.26,-5.02,34.37,-5.04,36.08,-5.13,36.30,-5.08,36.41,-5.10,36.13,-5.25,36.72,-5.19,36.76,-5.16,36.91,-5.19,36.95,-5.22,37.05,-5.06,37.14,-5.13,37.22,-5.09,37.05,-5.28,36.99,-5.40,36.91,-5.38,36.58,-5.32,36.76,-5.37,
34.69,-5.30,35.30,-5.30,35.45,-5.24,35.51,-5.34,35.66,-5.37,34.70,-5.43,34.78,-5.47,34.90,-5.50,34.37,-5.43,34.43,-5.43,35.28,-5.43,35.22,-5.48,35.35,-5.56,35.55,-5.45,35.60,-5.55,35.39,-5.65,35.51,-5.67,35.85,-5.47,35.68,-5.63,35.85,-5.65,36.10,-5.43,36.24,-5.39,36.20,-5.52,36.16,-5.58,36.34,-5.56,36.49,-5.54,34.89,-5.83,35.01,-5.76,35.16,-5.69,35.18,-5.58,35.04,-5.85,34.80,-5.88,34.78,-5.66,34.63,-5.69,34.42,-5.70,34.37,-5.76,34.30,-5.78,34.26,-5.61,34.26,-5.67,
35.39,-5.79,35.49,-5.77,35.62,-5.74,35.58,-5.83,35.70,-5.80,35.84,-5.78,35.93,-5.74,36.01,-5.76,35.79,-5.91,36.17,-5.94,35.53,-6.0,35.23,-5.86,35.16,-5.93,35.14,-6.0,35.01,-6.04,34.91,-6.0,34.74,-6.0,34.58,-5.85,34.49,-5.83,34.23,-5.95,
37.21,-3.99,37.47,-4.01,37.83,-3.96,37.26,-4.16,37.37,-4.11,37.39,-4.23,37.49,-4.19,37.62,-4.08,37.64,-4.27,37.56,-4.30,37.43,-4.34,37.75,-4.38,38.08,-4.10,38.20,-4.13,38.27,-4.12,38.22,-4.27,38.25,-4.35,38.03,-4.38,38.05,-4.46,37.15,-4.38,37.15,-4.52,37.41,-4.47,37.35,-4.60,37.47,-4.60,37.56,-4.49,37.63,-4.54,37.83,-4.47,37.87,-4.58,37.97,-4.59,38.05,-4.69,38.08,-4.78,38.23,-4.56,38.36,-4.59,38.28,-4.69,38.36,-4.81,38.18,-4.91,38.25,-4.94,38.12,-5.07,37.16,-4.69,37.22,-4.73,37.39,-4.71,37.30,-4.82,37.12,-4.84,37.53,-4.71,37.70,-4.77,37.85,-4.79,37.62,-4.86,37.55,-5.02,37.70,-4.97,37.80,-4.91,37.91,-4.95,37.97,-4.93,37.95,-5.04,37.72,-5.13,37.53,-5.15,37.60,-5.26,37.36,-5.19,37.50,-5.39];
const xxlDarkCore=[33.82,-3.54,33.93,-3.58,33.99,-3.54,33.82,-3.69,33.80,-3.80,33.95,-3.82,34.09,-3.69,34.22,-3.84,34.24,-3.91,34.28,-4.0,34.11,-4.02,34.07,-3.93,33.93,-4.04,33.78,-4.0,34.01,-4.10,34.09,-4.19,34.22,-4.15,34.32,-4.28,34.18,-4.30,33.99,-4.26,33.95,-4.34,34.07,-4.39,33.82,-4.23,34.32,-3.60,34.41,-3.60,34.51,-3.43,34.57,-3.40,34.51,-3.58,34.70,-3.61,34.56,-3.75,34.44,-3.80,34.78,-3.89,34.89,-3.82,34.66,-4.02,34.76,-4.04,34.49,-3.97,34.43,-4.10,34.55,-4.21,34.61,-4.19,34.70,-4.17,34.59,-4.32,34.66,-4.32,34.46,-4.41,34.89,-4.10,34.89,-4.23,35.03,-4.0,35.07,-4.13,35.11,-3.91,35.18,-3.97,35.26,-4.04,35.09,-4.23,35.22,-4.21,35.24,-4.30,35.39,-4.06,35.36,-3.91,35.34,-3.80,35.41,-3.86,35.49,-3.84,35.05,-3.71,35.14,-3.73,35.20,-3.75,34.97,-3.62,35.05,-3.49,34.99,-3.47,35.16,-3.58,35.20,-3.47,35.36,-3.60,35.43,-3.40,35.41,-3.47,35.56,-3.53,35.61,-3.54,35.70,-3.67,35.64,-3.75,35.68,-3.93,35.76,-3.99,35.84,-4.02,35.86,-4.08,35.59,-4.02,35.59,-4.23,35.68,-4.23,35.78,-4.23,35.93,-4.19,35.95,-4.28,36.05,-4.0,36.03,-4.13,36.06,-3.71,36.11,-3.83,36.05,-3.44,36.22,-3.51,35.89,-3.56,35.70,-3.34,35.93,-3.27,35.84,-3.25,35.74,-3.16,35.86,-3.14,35.97,-3.01,36.05,-3.08,36.18,-3.12,35.64,-2.92,35.45,-3.08,35.54,-3.06,35.51,-3.16,35.56,-3.32,35.34,-3.14,35.20,-3.12,35.11,-3.19,35.09,-3.25,35.20,-3.27,34.96,-3.21,34.86,-3.16,34.86,-3.02,34.95,-3.04,34.89,-3.30,35.26,-2.82,35.36,-2.90,35.43,-4.26,35.43,-4.34,35.55,-4.37,36.20,-4.30,36.18,-4.41,35.84,-4.39,35.95,-4.43,35.49,-4.08,
34.34,-4.84,34.36,-4.80,34.26,-4.82,34.43,-4.82,34.30,-4.97,34.39,-5.0,34.59,-4.67,34.66,-4.67,34.72,-4.67,34.55,-4.78,34.74,-4.89,34.78,-4.97,34.86,-4.84,34.91,-4.84,34.61,-4.97,34.55,-4.91,35.09,-5.0,35.22,-5.04,35.41,-4.73,35.45,-4.82,35.55,-4.78,35.76,-4.73,35.70,-4.82,35.84,-4.78,36.01,-4.62,36.07,-4.60,35.76,-4.93,35.55,-5.10,35.66,-5.10,35.80,-5.10,36.09,-5.13,36.11,-4.97,36.22,-5.02,36.14,-5.24,34.49,-5.17,34.53,-5.28,34.66,-5.10,34.70,-5.17,34.30,-5.15,34.20,-5.21,34.91,-5.15,35.07,-5.13,35.07,-5.19,34.76,-5.37,34.66,-5.35,34.39,-5.43,34.43,-5.41,34.16,-5.37,34.07,-5.39,33.99,-5.37,33.88,-5.38,34.09,-5.52,33.80,-5.59,33.93,-5.59,34.03,-5.67,34.14,-5.65,34.28,-5.63,34.30,-5.76,34.43,-5.69,34.64,-5.69,34.89,-5.51,35.18,-5.59,35.22,-5.49,35.30,-5.28,35.30,-5.41,35.45,-5.24,35.55,-5.35,35.47,-5.50,35.36,-5.59,35.41,-5.65,35.49,-5.76,35.59,-5.80,35.70,-5.80,35.69,-5.63,35.84,-5.45,35.82,-5.65,35.82,-5.78,35.93,-5.74,36.03,-5.75,36.18,-5.93,36.18,-5.54,36.11,-5.59,35.01,-5.76,34.93,-5.85,34.80,-5.88,35.23,-5.87,35.43,-5.88,35.14,-5.96,35.01,-6.03,34.91,-6.0,34.74,-6.0,34.53,-5.84,34.47,-5.83,34.57,-5.85,34.07,-5.86,34.03,-5.96,34.11,-5.99,34.23,-5.95,33.82,-5.67,33.82,-5.91,33.79,-5.10,33.93,-5.17,33.80,-4.97,33.97,-4.86,34.09,-4.95,33.80,-4.84,33.97,-4.73,33.82,-4.65,33.93,-4.54,34.20,-4.60,34.32,-4.52,
36.34,-4.01,36.43,-4.01,36.53,-3.98,36.61,-3.95,36.39,-4.10,36.41,-4.19,36.30,-4.08,36.59,-4.19,36.70,-4.23,36.76,-4.19,36.82,-4.25,36.89,-4.12,36.74,-4.32,36.61,-4.38,36.57,-4.45,36.51,-4.52,36.57,-4.32,36.26,-4.36,36.18,-4.43,36.11,-4.36,36.32,-4.49,36.22,-4.56,36.36,-4.34,36.05,-4.60,36.14,-4.65,36.32,-4.62,36.55,-4.65,36.64,-4.71,36.45,-4.76,36.51,-4.84,36.28,-4.86,36.32,-4.97,36.18,-4.84,36.11,-4.99,36.22,-4.97,36.51,-4.99,36.64,-5.02,36.72,-4.95,36.32,-5.10,36.41,-5.10,36.07,-5.13,36.13,-5.24,36.76,-5.17,36.70,-5.20,36.89,-5.21,36.95,-5.19,37.05,-5.04,37.12,-5.08,37.22,-5.10,37.05,-5.28,36.91,-5.37,36.99,-5.41,36.76,-5.35,36.55,-5.24,36.55,-5.32,36.61,-5.32,36.49,-5.52,36.32,-5.56,36.26,-5.37,36.18,-5.52,36.09,-5.43,36.03,-5.76,36.17,-5.92,36.86,-4.49,36.91,-4.62,36.95,-4.52,36.86,-4.71,36.99,-4.56,37.14,-4.38,37.14,-4.52,37.24,-4.71,37.14,-4.69,37.26,-4.62,37.34,-4.62,37.45,-4.60,37.43,-4.34,37.43,-4.45,37.09,-4.86,37.20,-4.84,37.30,-4.82,37.41,-4.73,37.53,-4.71,37.61,-4.76,37.70,-4.76,37.61,-4.89,37.70,-4.97,37.57,-4.99,37.57,-5.10,37.51,-5.13,37.72,-5.10,37.53,-5.26,37.59,-5.26,37.50,-5.39,37.35,-5.19,37.84,-4.78,37.80,-4.91,37.95,-4.91,37.97,-5.04,38.11,-5.06,38.18,-4.89,38.24,-4.93,38.22,-4.84,38.28,-4.65,38.35,-4.59,38.23,-4.56,38.34,-4.80,38.07,-4.76,38.05,-4.65,37.95,-4.58,37.86,-4.58,37.76,-4.62,37.82,-4.48,38.05,-4.45,38.03,-4.37,38.24,-4.36,38.22,-4.27,38.07,-4.10,38.20,-4.14,38.26,-4.11,37.80,-3.97,37.64,-4.08,37.66,-4.16,37.55,-4.30,37.64,-4.27,37.45,-4.01,37.21,-3.99,37.26,-4.16,37.36,-4.10,37.49,-4.16,37.39,-4.23,37.75,-4.38,36.64,-3.69,36.72,-3.64,36.78,-3.74,36.47,-3.77,36.45,-3.88,36.05,-3.71,36.11,-3.82,36.22,-3.62,36.57,-3.51,36.06,-3.99,36.93,-4.03,37.03,-4.14,36.78,-4.01];
const ao13XTicks=[14,16,18,20,22,24,26,28];
const ao13YTicks=[-1,0,1];
const ao10aXTicks=[334,335];
const ao10aYTicks=[0,1];
const ao10bXTicks=[352,353];
const ao10bYTicks=[-1,0];
const xxlXTicks=[30,32,34,36,38];
const xxlYTicks=[-8,-7,-6,-5,-4,-3,-2];

const LIGHT='#adb7d4',DARK='#4f6ca3',INK='#111';
const TICKFONT='"DejaVu Sans"',TEXTFONT='"Liberation Sans"';
const TS=27;
const pairs=a=>{const o=[];for(let i=0;i<a.length;i+=2)o.push([a[i],a[i+1]]);return o;};
const minus=v=>String(v).replace('-','\u2212');
const grids=[
 {left:138.5,top:20,width:1151,height:153},
 {left:209.5,top:353,width:151,height:146},
 {left:194.5,top:566,width:173,height:168},
 {left:532,top:238,width:732,height:548}
].map(g=>Object.assign(g,{show:true,borderColor:INK,borderWidth:1.3,backgroundColor:'#fff'}));
const tok=padding=>({padding,fontFamily:TICKFONT,fontSize:TS,color:'#000'});
function axis(type,gi,min,max,ticks,label){
 return {type:'value',gridIndex:gi,min,max,splitLine:{show:false},axisLine:{show:false,onZero:false},
  axisTick:{show:true,customValues:ticks,length:6,lineStyle:{color:INK,width:1.3},inside:false},
  axisLabel:Object.assign({customValues:ticks,color:'#000',fontFamily:TICKFONT,fontSize:TS,margin:type==='x'?14:14,hideOverlap:false,showMinLabel:true,showMaxLabel:true},label||{})};
}
function scatter(gi,d,c){return {type:'scatter',xAxisIndex:gi,yAxisIndex:gi,data:pairs(d),symbolSize:9.3,itemStyle:{color:c,opacity:1},silent:true,animation:false};}
const inset=(v,map)=>'{'+map[v]+'|'+v+'}';
const option={animation:false,backgroundColor:'#fff',
 grid:grids,
 xAxis:[
  axis('x',0,13.5,28.48,ao13XTicks,{formatter:v=>String(v)}),
  axis('x',1,333.36,335.27,ao10aXTicks,{margin:13,formatter:v=>inset(v,{334:'l',335:'s'}),rich:{l:tok([0,16,0,0]),s:tok([0,4,0,0])}}),
  axis('x',2,351.448,353.589,ao10bXTicks,{margin:13,formatter:v=>inset(v,{352:'l',353:'r'}),rich:{l:tok([0,4,0,0]),r:tok([0,0,0,6])}}),
  axis('x',3,29.66,38.81,xxlXTicks,{margin:15,formatter:v=>String(v)})
 ],
 yAxis:[
  axis('y',0,-1,1,ao13YTicks,{formatter:v=>'{a|'+minus(v)+'}',rich:{a:tok([4,0,0,0])}}),
  axis('y',1,-.744,1.10,ao10aYTicks,{formatter:v=>inset(v,{0:'z',1:'o'}),rich:{z:tok([8,0,0,0]),o:tok([14,0,0,0])}}),
  axis('y',2,-1.51,.564,ao10bYTicks,{formatter:v=>inset(v,{0:'z','-1':'m'}),rich:{z:tok([3,0,0,0]),m:tok([5,0,0,0])}}),
  axis('y',3,-8.524,-1.345,xxlYTicks,{formatter:v=>'{a|'+minus(v)+'}',rich:{a:tok([4,0,0,0])}})
 ],
 title:[
  {text:'Stripe 82X - AO13',left:158,top:3,backgroundColor:'#fff',padding:[0,18,0,15],textStyle:{fontFamily:TEXTFONT,fontSize:33,fontWeight:'normal',color:'#000'}},
  {text:'Stripe 82X - AO10',left:146,top:297,padding:0,textStyle:{fontFamily:TEXTFONT,fontSize:33,fontWeight:'normal',color:'#000'}},
  {text:'XMM-XXL-North',left:560,top:259,padding:0,textStyle:{fontFamily:TEXTFONT,fontSize:33,fontWeight:'normal',color:'#000'}}
 ],
 graphic:[
  {type:'text',left:494,top:882,style:{text:'Right Ascension (deg)',fontFamily:TEXTFONT,fontSize:38,fill:'#000',stroke:'#000',lineWidth:.6}},
  {type:'text',x:7,y:597,rotation:Math.PI/2,style:{text:'Declination (deg)',fontFamily:TEXTFONT,fontSize:38.4,fill:'#000',stroke:'#000',lineWidth:.6}}
 ],
 series:[
  scatter(0,ao13Light.concat(ao13LightMore,ao13LightCrops),LIGHT),scatter(0,ao13Dark.concat(ao13DarkMore,ao13DarkCrops),DARK),
  scatter(1,ao10aLight,LIGHT),scatter(1,ao10aDark,DARK),
  scatter(2,ao10bLight,LIGHT),scatter(2,ao10bDark,DARK),
  scatter(3,xxlLight.concat(xxlLightCore),LIGHT),scatter(3,xxlDark.concat(xxlDarkCore),DARK)
 ]
};
echarts.init(document.getElementById('c'),null,{renderer:'canvas'}).setOption(option);
</script></body></html>
